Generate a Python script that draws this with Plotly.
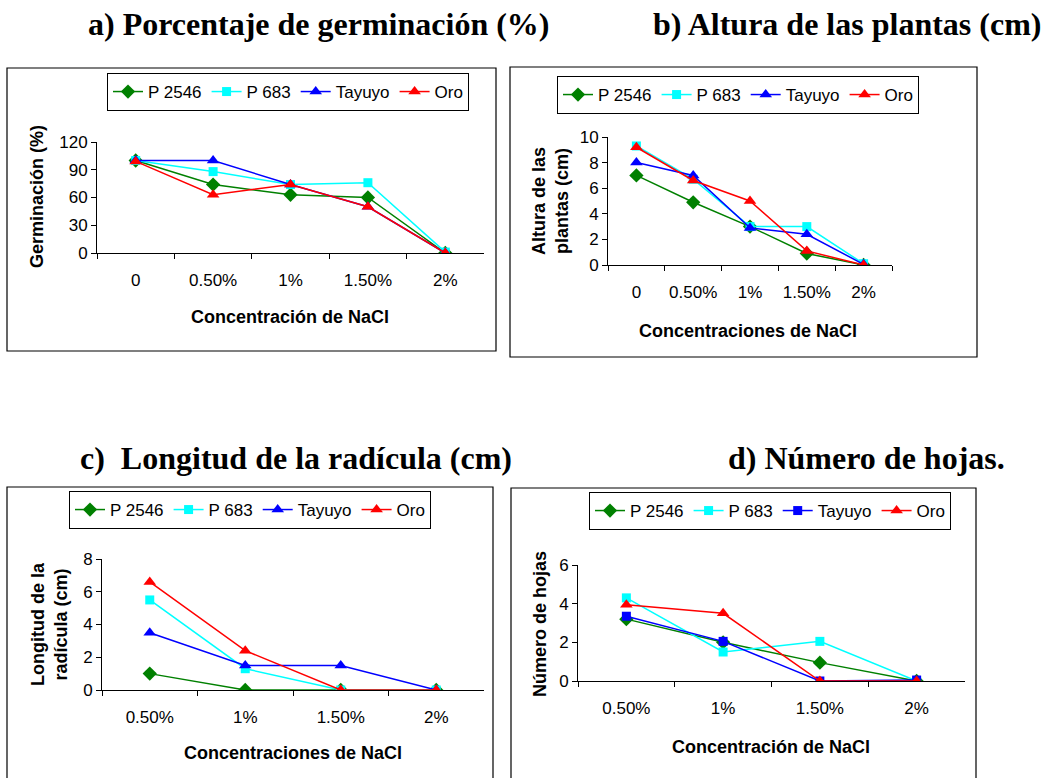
import plotly.graph_objects as go

W, H = 1048, 778

# ---------------- data ----------------
series = ["P 2546", "P 683", "Tayuyo", "Oro"]
colors = {"P 2546": "#008000", "P 683": "#00FFFF", "Tayuyo": "#0000FF", "Oro": "#FF0000"}

cats_ab = ["0", "0.50%", "1%", "1.50%", "2%"]
cats_cd = ["0.50%", "1%", "1.50%", "2%"]

germ_p2546 = [100, 74, 63, 60, 0]
germ_p683 = [100, 88, 74, 76, 1]
germ_tayuyo = [100, 100, 74, 50, 0]
germ_oro = [99, 63, 74, 50, 0]

alt_p2546 = [7.0, 4.9, 3.0, 0.9, 0]
alt_p683 = [9.3, 6.7, 3.0, 3.0, 0.1]
alt_tayuyo = [8.0, 7.0, 2.9, 2.4, 0.05]
alt_oro = [9.2, 6.6, 5.0, 1.1, 0]

rad_p2546 = [1.0, 0, 0, 0]
rad_p683 = [5.5, 1.3, 0, 0]
rad_tayuyo = [3.5, 1.5, 1.5, 0]
rad_oro = [6.6, 2.4, 0, 0]

hoj_p2546 = [3.2, 2.0, 0.95, 0]
hoj_p683 = [4.3, 1.5, 2.05, 0]
hoj_tayuyo = [3.35, 2.05, 0, 0.05]
hoj_oro = [3.95, 3.5, 0, 0]

titles = ["a) Porcentaje de germinación (%)", "b) Altura de las plantas (cm)",
          "c)\u00a0 Longitud de la radícula (cm)", "d) Número de hojas."]
ytitles = ["Germinación (%)", "Altura de las<br>plantas (cm)",
           "Longitud de la<br>radícula (cm)", "Número de hojas"]
xtitles = ["Concentración de NaCl", "Concentraciones de NaCl",
           "Concentraciones de NaCl", "Concentración de NaCl"]

# ---------------- helpers ----------------
def px(x):
    return x / W

def py(y):
    return 1 - y / H

SANS = "Liberation Sans, Arial, sans-serif"
SERIF = "Liberation Serif, Times New Roman, serif"
MSIZE = {"diamond": 11, "square": 9, "triangle-up": 11}

fig = go.Figure()

panels = [
    dict(cats=cats_ab, data=[germ_p2546, germ_p683, germ_tayuyo, germ_oro],
         xd=(97, 484), yd=(142, 253), yr=(0, 120), dt=30,
         syms=["diamond", "square", "triangle-up", "triangle-up"],
         box=(7, 68, 496, 351), leg=(288, 73)),
    dict(cats=cats_ab, data=[alt_p2546, alt_p683, alt_tayuyo, alt_oro],
         xd=(608, 892), yd=(137, 265), yr=(0, 10), dt=2,
         syms=["diamond", "square", "triangle-up", "triangle-up"],
         box=(510, 67, 977, 357), leg=(738, 76)),
    dict(cats=cats_cd, data=[rad_p2546, rad_p683, rad_tayuyo, rad_oro],
         xd=(102, 484), yd=(559, 690), yr=(0, 8), dt=2,
         syms=["diamond", "square", "triangle-up", "triangle-up"],
         box=(7, 487, 493, 800), leg=(250, 491)),
    dict(cats=cats_cd, data=[hoj_p2546, hoj_p683, hoj_tayuyo, hoj_oro],
         xd=(578, 965), yd=(565, 681), yr=(0, 6), dt=2,
         syms=["diamond", "square", "square", "triangle-up"],
         box=(511, 488, 976, 800), leg=(770, 492)),
]

xt_pos = [(290, 317), (748, 331), (293, 753), (771, 747)]
yt_pos = [(37, 197), (550, 201), (49, 624), (540, 624)]
ti_pos = [(319, 24), (847, 24), (296, 458), (866, 458)]

annotations = []
shapes = []
layout = {}

for i, p in enumerate(panels):
    k = "" if i == 0 else str(i + 1)
    legname = "legend" + k
    for s, vals, sym in zip(series, p["data"], p["syms"]):
        fig.add_trace(go.Scatter(
            x=p["cats"], y=vals, name=s, mode="lines+markers",
            line=dict(color=colors[s], width=1.5),
            marker=dict(symbol=sym, color=colors[s], size=MSIZE[sym]),
            xaxis="x" + k, yaxis="y" + k, legend=legname, showlegend=True,
        ))
    layout["xaxis" + k] = dict(
        domain=[px(p["xd"][0]), px(p["xd"][1])], anchor="y" + k,
        type="category", categoryorder="array", categoryarray=p["cats"],
        range=[-0.5, len(p["cats"]) - 0.5],
        tickson="boundaries", ticks="outside", ticklen=5, tickcolor="black",
        showline=True, linecolor="black", linewidth=1, showgrid=False,
        tickfont=dict(family=SANS, size=17, color="black"), ticklabelstandoff=12,
        tickangle=0, automargin=False,
        zeroline=False, fixedrange=True,
    )
    layout["yaxis" + k] = dict(
        domain=[py(p["yd"][1]), py(p["yd"][0])], anchor="x" + k,
        range=list(p["yr"]), dtick=p["dt"], tick0=0,
        ticks="outside", ticklen=5, tickcolor="black",
        showline=True, linecolor="black", linewidth=1, showgrid=False,
        zeroline=False, tickfont=dict(family=SANS, size=17, color="black"),
        automargin=False, fixedrange=True,
    )
    layout[legname] = dict(
        x=px(p["leg"][0]), y=py(p["leg"][1]), xanchor="center", yanchor="top",
        orientation="h", bordercolor="black", borderwidth=1, bgcolor="white",
        font=dict(family=SANS, size=17, color="black"),
        itemsizing="trace", tracegroupgap=0, itemclick=False, itemdoubleclick=False,
    )
    bx = p["box"]
    shapes.append(dict(type="rect", xref="paper", yref="paper",
                       x0=px(bx[0]), x1=px(bx[2]), y0=py(bx[3]), y1=py(bx[1]),
                       line=dict(color="black", width=1.2), layer="below"))
    annotations.append(dict(text="<b>" + xtitles[i] + "</b>", x=px(xt_pos[i][0]), y=py(xt_pos[i][1]),
                            xref="paper", yref="paper", showarrow=False,
                            xanchor="center", yanchor="middle",
                            font=dict(family=SANS, size=18, color="black")))
    annotations.append(dict(text="<b>" + ytitles[i] + "</b>", x=px(yt_pos[i][0]), y=py(yt_pos[i][1]),
                            xref="paper", yref="paper", showarrow=False, textangle=-90,
                            xanchor="center", yanchor="middle",
                            font=dict(family=SANS, size=18, color="black")))
    annotations.append(dict(text="<b>" + titles[i] + "</b>", x=px(ti_pos[i][0]), y=py(ti_pos[i][1]),
                            xref="paper", yref="paper", showarrow=False,
                            xanchor="center", yanchor="middle",
                            font=dict(family=SERIF, size=32, color="black")))

fig.update_layout(
    width=W, height=H, margin=dict(l=0, r=0, t=0, b=0, pad=0, autoexpand=False),
    paper_bgcolor="white", plot_bgcolor="rgba(0,0,0,0)",
    annotations=annotations, shapes=shapes, **layout,
)

fig.write_html("out.html", config={"displayModeBar": False},
               post_script="document.body.style.margin='0';document.body.style.overflow='hidden';")
